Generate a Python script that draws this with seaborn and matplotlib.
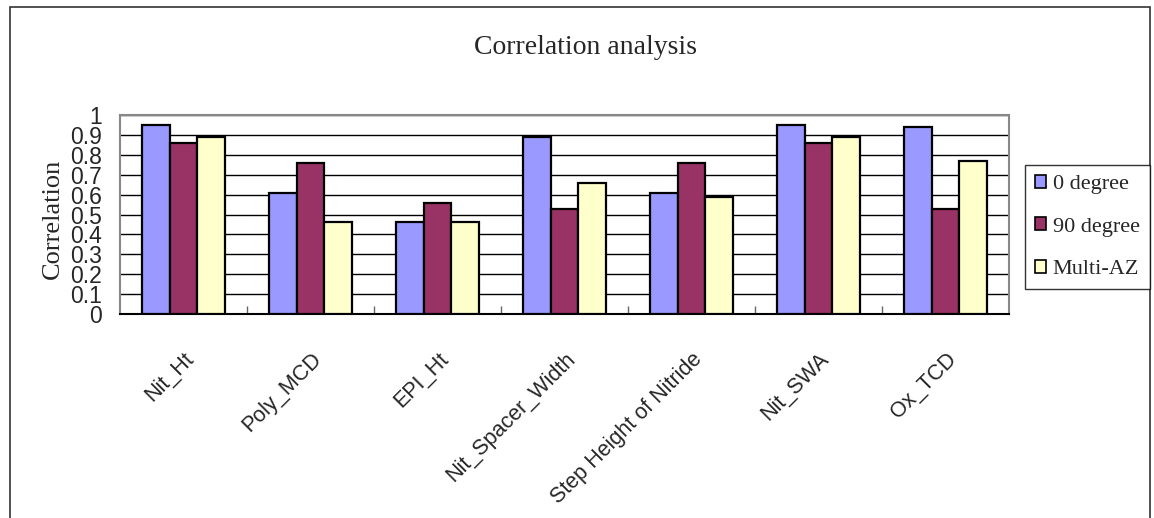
import matplotlib
matplotlib.use("Agg")
import matplotlib.pyplot as plt
from matplotlib.patches import Rectangle, Patch
from matplotlib.ticker import FixedLocator
import numpy as np
import pandas as pd
import seaborn as sns

# Correlation values per measured parameter
categories = ["Nit_Ht", "Poly_MCD", "EPI_Ht", "Nit_Spacer_Width",
              "Step Height of Nitride", "Nit_SWA", "Ox_TCD"]
deg0 = [0.95, 0.61, 0.46, 0.89, 0.61, 0.95, 0.94]
deg90 = [0.86, 0.76, 0.56, 0.53, 0.76, 0.86, 0.53]
multi_az = [0.89, 0.46, 0.46, 0.66, 0.59, 0.89, 0.77]
series_names = ["0 degree", "90 degree", "Multi-AZ"]
colors = ["#9999FF", "#993366", "#FFFFCC"]
ytick_values = [0, 0.1, 0.2, 0.3, 0.4, 0.5, 0.6, 0.7, 0.8, 0.9, 1]
ytick_labels = ["0", "0.1", "0.2", "0.3", "0.4", "0.5", "0.6", "0.7", "0.8", "0.9", "1"]

df = pd.DataFrame({
    "category": np.repeat(categories, 3),
    "series": series_names * len(categories),
    "value": np.ravel(np.column_stack([deg0, deg90, multi_az])),
})

sns.set_theme(style="white")
serif = ["Liberation Serif", "DejaVu Serif"]
sans = ["Liberation Sans", "DejaVu Sans"]

fig = plt.figure(figsize=(11.54, 5.18), dpi=100)
ax = fig.add_axes([120 / 1154, 1 - 314 / 518, 889 / 1154, 199 / 518])

sns.barplot(data=df, x="category", y="value", hue="series",
            order=categories, hue_order=series_names,
            palette=colors, width=0.66, gap=0, saturation=1,
            edgecolor="black", linewidth=1.6, legend=False, ax=ax, zorder=3)

ax.set_ylim(0, 1)
ax.set_xlim(-0.5, len(categories) - 0.5)
ax.set_yticks(ytick_values)
ax.set_yticklabels(ytick_labels, family=sans, fontsize=16.5)
ax.tick_params(axis="y", length=0, pad=13)
ax.yaxis.grid(True, color="black", linewidth=1, zorder=0)
ax.set_axisbelow(True)

# category labels at centers, tick marks at category boundaries
ax.set_xticks(range(len(categories)))
ax.set_xticklabels(categories, family=sans, fontsize=15.5, rotation=45,
                   ha="right", va="top", rotation_mode="anchor")
ax.tick_params(axis="x", which="major", length=0, pad=25)
ax.xaxis.set_minor_locator(FixedLocator(np.arange(0.5, len(categories) - 1, 1)))
ax.tick_params(axis="x", which="minor", direction="in", length=6,
               width=1, color="#666666", bottom=True)

for side in ["top", "right", "left"]:
    ax.spines[side].set_color("#888888")
    ax.spines[side].set_linewidth(1.5)
ax.spines["bottom"].set_color("black")
ax.spines["bottom"].set_linewidth(1.5)

ax.set_xlabel("")
ax.set_ylabel("Correlation", family=serif, fontsize=19)
ax.yaxis.set_label_coords(-0.063, 0.48)

fig.text(586 / 1154, 1 - 47 / 518, "Correlation analysis",
         family=serif, fontsize=20, ha="center", va="center")

handles = [Patch(facecolor=c, edgecolor="black", linewidth=1.2) for c in colors]
leg = fig.legend(handles, series_names, loc="center left",
                 bbox_to_anchor=(1025 / 1154, 1 - 227 / 518),
                 prop={"family": serif, "size": 16},
                 handlelength=0.5, handleheight=0.5, handletextpad=0.3,
                 labelspacing=1.05, borderpad=0.45, borderaxespad=0,
                 frameon=True, fancybox=False, shadow=False)
leg.get_frame().set_edgecolor("black")
leg.get_frame().set_linewidth(1)

# outer chart frame
fig.patches.append(Rectangle((10 / 1154, -0.05), 1140 / 1154, 1.05 - 7 / 518,
                             transform=fig.transFigure, fill=False,
                             edgecolor="#333333", linewidth=1.2))

fig.savefig("out.png", dpi=100)
